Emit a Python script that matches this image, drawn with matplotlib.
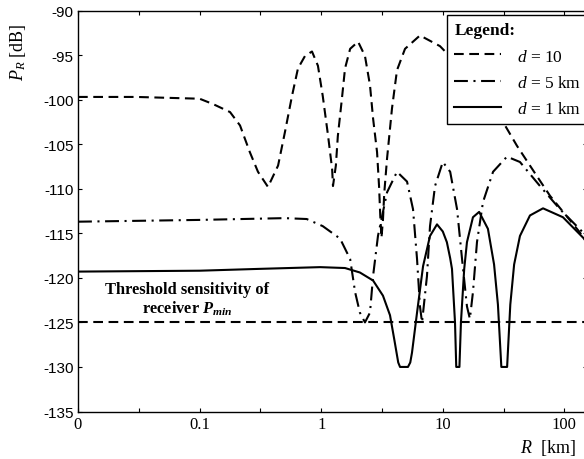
import matplotlib
matplotlib.use("Agg")
import matplotlib.pyplot as plt
from matplotlib.lines import Line2D
from matplotlib.ticker import FixedLocator, NullFormatter

plt.rcParams['font.family'] = ['Liberation Serif', 'DejaVu Serif']
plt.rcParams['mathtext.fontset'] = 'custom'
plt.rcParams['mathtext.rm'] = 'Liberation Serif'
plt.rcParams['mathtext.it'] = 'Liberation Serif:italic'
plt.rcParams['mathtext.bf'] = 'Liberation Serif:bold'
plt.rcParams['mathtext.bfit'] = 'Liberation Serif:italic:bold'
plt.rcParams['axes.unicode_minus'] = False
plt.rcParams['lines.scale_dashes'] = False

# ---------------- data ----------------
d10_R = [0.01, 0.03, 0.1, 0.129, 0.178, 0.215, 0.259, 0.302, 0.365, 0.442, 0.504,
         0.575, 0.644, 0.736, 0.84, 0.94, 1.03, 1.14, 1.23, 1.25, 1.32, 1.37, 1.48,
         1.57, 1.73, 2.01, 2.29, 2.52, 2.67, 2.88, 2.99, 3.06, 3.13, 3.22, 3.30,
         3.48, 3.82, 4.2, 4.89, 6.49, 9.48, 10.8, 16.7, 24.4, 32.5, 40.8, 59.5,
         76.2, 134, 152]
d10_P = [-99.7, -99.7, -99.9, -100.5, -101.4, -102.9, -105.9, -108.1, -109.8, -107.4, -103.6,
         -99.6, -96.5, -95.1, -94.6, -96.2, -99.6, -104.1, -107.8, -109.7, -107.4, -104.1, -99.9,
         -96.5, -94.3, -93.5, -95.1, -98.4, -102.1, -105.9, -109.7, -113.0, -115.5, -113.5, -110.5,
         -106.6, -101.0, -96.7, -94.3, -92.8, -94.0, -94.8, -97.6, -100.8, -102.9, -105.2, -108.6,
         -110.8, -114.9, -116.0]

d5_R = [0.01, 0.1, 0.5, 0.76, 1.03, 1.43, 1.73, 1.90, 2.08, 2.29, 2.52, 2.67, 2.93,
        3.48, 4.2, 5.08, 5.69, 6.14, 6.49, 6.75, 7.41, 7.85, 8.63, 10.0, 11.5,
        13.1, 14.4, 15.8, 16.7, 17.7, 19.1, 21.4, 25.9, 33.7, 43.1, 63, 92, 142, 152]
d5_P = [-113.7, -113.5, -113.3, -113.4, -114.2, -115.6, -117.9, -121.6, -123.9, -125.0, -123.9,
        -119.8, -115.3, -110.4, -108.1, -109.2, -112.3, -117.9, -123.2, -125.0, -119.8, -114.2,
        -109.7, -107.0, -108.1, -112.3, -117.9, -123.2, -124.6, -121.6, -116.0, -111.5, -108.1,
        -106.4, -107.0, -109.7, -112.3, -114.9, -115.6]

d1_R = [0.01, 0.1, 0.3, 0.98, 1.57, 2.08, 2.67, 3.22, 3.68, 4.0, 4.3, 4.45, 5.17, 5.4,
        5.58, 6.14, 6.88, 7.85, 8.96, 10.0, 10.8, 11.5, 11.9, 12.6, 12.9, 13.7, 14.1,
        15.0, 15.8, 17.7, 19.9, 23.5, 26.4, 28.4, 30.3, 33.8, 35.9, 38.6, 43.1, 52.1,
        66.7, 97.3, 145, 152]
d1_P = [-119.3, -119.2, -119.0, -118.8, -118.9, -119.4, -120.3, -122.0, -124.2, -127.0, -129.5,
        -130.0, -130.0, -129.5, -128.4, -123.9, -118.7, -115.3, -114.0, -114.8, -116.0, -117.8,
        -119.0, -125.0, -130.0, -130.0, -125.0, -119.0, -116.0, -113.2, -112.6, -114.5, -118.5,
        -123.0, -130.0, -130.0, -123.0, -118.5, -115.3, -113.0, -112.2, -113.2, -115.6, -116.0]

P_min = -125
series_labels = [r'$d$ = 10', r'$d$ = 5 km', r'$d$ = 1 km']
x_major = [0.01, 0.1, 1, 10, 100]
x_major_labels = ['0', '0.1', '1', '10', '100']
x_minor = [10 ** -1.5, 10 ** -0.5, 10 ** 0.5, 10 ** 1.5]
y_ticks = list(range(-135, -89, 5))

# ---------------- figure ----------------
W, H = 584, 460
fig = plt.figure(figsize=(W / 100, H / 100), dpi=100)
ax_left, ax_right, ax_top, ax_bot = 78, 587, 11.5, 412.5
ax = fig.add_axes([ax_left / W, (H - ax_bot) / H, (ax_right - ax_left) / W, (ax_bot - ax_top) / H])

ax.set_xscale('log')
xmax = 10 ** (-2 + (ax_right - ax_left) / 121.6)
ax.set_xlim(0.01, xmax)
ax.set_ylim(-135, -90)

lw = 1.5
ax.plot(d10_R, d10_P, color='black', lw=lw, linestyle=(0, (7, 4)))
ax.plot(d5_R, d5_P, color='black', lw=lw, linestyle=(0, (10, 4, 1.5, 4)))
ax.plot(d1_R, d1_P, color='black', lw=lw, linestyle='-')
ax.axhline(P_min, color='black', lw=lw, linestyle=(0, (7, 4)))

ax.xaxis.set_major_locator(FixedLocator(x_major))
ax.set_xticklabels(x_major_labels, fontfamily='Liberation Serif', fontsize=12)
ax.xaxis.set_minor_locator(FixedLocator(x_minor))
ax.xaxis.set_minor_formatter(NullFormatter())
ax.set_yticks(y_ticks)
ax.set_yticklabels([str(v) for v in y_ticks], fontfamily='Liberation Sans', fontsize=11)
ax.tick_params(which='both', direction='in', length=3, width=0.8,
               top=True, right=True, pad=3)
for s in ax.spines.values():
    s.set_linewidth(1.0)

# axis labels
fig.text(18 / W, 1 - 52 / H, r'$P_R$ [dB]', rotation=90, ha='center', va='center',
         fontsize=13)
fig.text(548 / W, 1 - 448 / H, r'$R$  [km]', ha='center', va='center', fontsize=13)

# threshold annotation
ax.text(0.0787, -121.2, 'Threshold sensitivity of', ha='center', va='center',
        fontsize=11.8, fontweight='bold')
ax.text(0.0787, -123.4, r'receiver $\mathbfit{P}_{\mathbfit{min}}$', ha='center', va='center',
        fontsize=11.8, fontweight='bold')

# legend
handles = [Line2D([], [], color='black', lw=lw, linestyle=(0, (7, 4))),
           Line2D([], [], color='black', lw=lw, linestyle=(0, (10, 4, 1.5, 4))),
           Line2D([], [], color='black', lw=lw, linestyle='-')]
leg = ax.legend(handles, series_labels, title='Legend:', loc='upper left',
                bbox_to_anchor=(447 / W, (H - 130) / H, 170 / W, 114 / H),
                bbox_transform=fig.transFigure, mode='expand',
                frameon=True, fancybox=False, edgecolor='black', framealpha=1,
                borderaxespad=0, borderpad=0.42, handlelength=2.7, handletextpad=0.9,
                labelspacing=0.58, alignment='left',
                prop={'family': 'Liberation Serif', 'size': 12.5},
                title_fontproperties={'family': 'Liberation Serif', 'size': 12.5,
                                      'weight': 'bold'})
leg.get_frame().set_linewidth(1.0)

fig.savefig('out.png', dpi=100)
